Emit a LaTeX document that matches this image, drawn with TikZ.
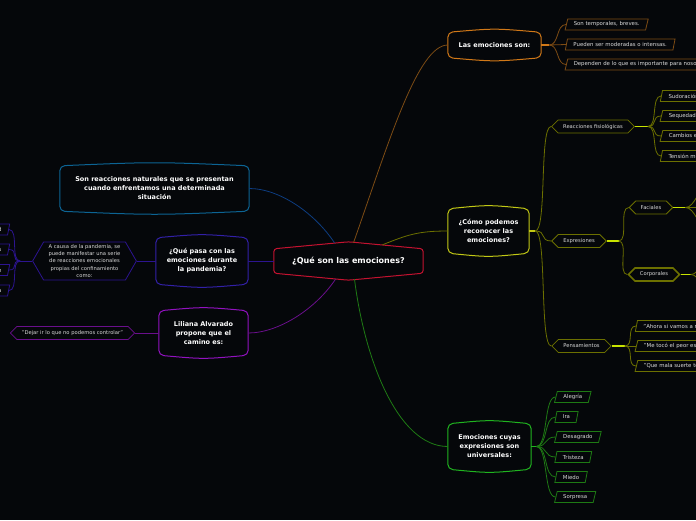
\documentclass[tikz,border=0pt]{standalone}
\usepackage{fontspec}
\setmainfont{DejaVu Sans}
\usepackage{xcolor}
\usetikzlibrary{shapes.geometric, shapes.symbols, positioning}

\definecolor{bgc}{HTML}{05070A}
\definecolor{lighttxt}{HTML}{DADADA}
\definecolor{emored}{HTML}{C41230}
\definecolor{ornbright}{HTML}{D07818}
\definecolor{ornline}{HTML}{7E4C14}
\definecolor{olvbright}{HTML}{C2C815}
\definecolor{olvline}{HTML}{6C7000}
\definecolor{olvstub}{HTML}{C8E400}
\definecolor{grnbright}{HTML}{20B420}
\definecolor{grnline}{HTML}{1E7A14}
\definecolor{bluebright}{HTML}{0C6494}
\definecolor{blueline}{HTML}{0D3C80}
\definecolor{indbright}{HTML}{3220A8}
\definecolor{indline}{HTML}{2C1490}
\definecolor{purbright}{HTML}{9212C0}
\definecolor{purline}{HTML}{6A0F8C}

% frame with curved top and bottom for the topic nodes
\newcommand{\bubble}[2]{\draw[#2, line width=1pt, rounded corners=5pt] (#1.west) -- (#1.north west) .. controls ([yshift=4pt]#1.north) .. (#1.north east) -- (#1.south east) .. controls ([yshift=-4pt]#1.south) .. (#1.south west) -- cycle;}

\begin{document}
\begin{tikzpicture}[x=1pt, y=-1pt,
    root/.style={font=\bfseries\fontsize{8}{10}\selectfont, text=white, minimum width=149pt, minimum height=24pt, inner sep=0pt},
    topic/.style={font=\bfseries\fontsize{6.5}{9}\selectfont, text=white, align=center, inner sep=0pt},
    hexa/.style={draw=#1, signal, signal to=west and east, signal pointer angle=90, fill=bgc, font=\fontsize{5.2}{7.3}\selectfont, text=lighttxt, minimum height=13pt, inner xsep=5pt, inner ysep=0pt, line width=0.8pt},
    para/.style={draw=#1, trapezium, trapezium left angle=63, trapezium right angle=117, trapezium stretches=true, fill=bgc, font=\fontsize{5.4}{6}\selectfont, text=lighttxt, minimum height=11pt, inner xsep=6pt, inner ysep=0pt, anchor=west, line width=0.8pt},
    link/.style={draw=#1, line width=0.8pt},
    stub/.style={draw=#1, line width=1.4pt}
]
    \useasboundingbox (0,0) rectangle (696,520);
    \fill[bgc] (0,0) rectangle (696,520);
    \clip (0,0) rectangle (696,520);

    % centre and topics
    \node[root] (emo) at (348.5,261) {¿Qué son las emociones?};
    \draw[emored, line width=1pt, rounded corners=3pt] (emo.north west) -- ([yshift=7pt]emo.north) -- (emo.north east) -- (emo.south east) -- ([yshift=-7pt]emo.south) -- (emo.south west) -- cycle;

    \node[topic, minimum width=93pt, minimum height=25pt] (son) at (494.5,45) {Las emociones son:};
    \node[topic, minimum width=81pt, minimum height=44pt] (como) at (488.5,231) {¿Cómo podemos\\reconocer las\\emociones?};
    \node[topic, minimum width=83pt, minimum height=45pt] (univ) at (489.5,446.5) {Emociones cuyas\\expresiones son\\universales:};
    \node[topic, minimum width=189pt, minimum height=45pt] (natur) at (154.5,188.5) {Son reacciones naturales que se presentan\\cuando enfrentamos una determinada\\situación};
    \node[topic, minimum width=92pt, minimum height=46pt] (pand) at (202,261) {¿Qué pasa con las\\emociones durante\\la pandemia?};
    \node[topic, minimum width=89pt, minimum height=44pt] (lili) at (203.5,333) {Liliana Alvarado\\propone que el\\camino es:};
    \bubble{son}{ornbright}
    \bubble{como}{olvbright}
    \bubble{univ}{grnbright}
    \bubble{natur}{bluebright}
    \bubble{pand}{indbright}
    \bubble{lili}{purbright}

    \draw[link=ornline] ([xshift=5pt,yshift=6pt]emo.north) .. controls +(35,-100) and +(-30,0) .. (son.west);
    \draw[link=olvline] ([xshift=34pt,yshift=4pt]emo.north) .. controls +(25,-10) and +(-30,0) .. (como.west);
    \draw[link=grnline] ([xshift=6pt,yshift=-6pt]emo.south) .. controls +(10,80) and +(-50,0) .. (univ.west);
    \draw[link=blueline] ([xshift=-14pt,yshift=6pt]emo.north) .. controls +(-20,-30) and +(30,0) .. (natur.east);
    \draw[link=purline] ([xshift=-13pt,yshift=-6pt]emo.south) .. controls +(-20,30) and +(30,0) .. (lili.east);
    \draw[link=indline] (emo.west) -- (pand.east);

    % Las emociones son
    \node[para=ornline] (son1) at (566,24.5) {Son temporales, breves.};
    \node[para=ornline] (son2) at (566,44.5) {Pueden ser moderadas o intensas.};
    \node[para=ornline] (son3) at (566,64.5) {Dependen de lo que es importante para nosotros};
    \coordinate (sonj) at ([xshift=8pt]son.east);
    \draw[stub=ornbright] (son.east) -- (sonj);
    \draw[link=ornline] (sonj) .. controls +(10,0) and +(-10,0) .. (son1.west);
    \draw[link=ornline] (sonj) -- (son2.west);
    \draw[link=ornline] (sonj) .. controls +(10,0) and +(-10,0) .. (son3.west);

    % Como podemos reconocer
    \node[hexa=olvline] (fisio) at (593,126.5) {Reacciones fisiológicas};
    \node[hexa=olvline] (expr) at (579,241) {Expresiones};
    \node[hexa=olvline] (pens) at (581.5,346) {Pensamientos};
    \coordinate (comoj) at ([xshift=6pt]como.east);
    \draw[stub=olvbright] (como.east) -- (comoj);
    \draw[link=olvline] (comoj) .. controls +(12,0) and +(-12,0) .. (fisio.west);
    \draw[link=olvline] (comoj) .. controls +(12,0) and +(-12,0) .. (expr.west);
    \draw[link=olvline] (comoj) .. controls +(12,0) and +(-12,0) .. (pens.west);

    \node[para=olvline] (fis1) at (661,96) {Sudoración};
    \node[para=olvline] (fis2) at (661,116) {Sequedad en la boca};
    \node[para=olvline] (fis3) at (661,136) {Cambios en la respiración};
    \node[para=olvline] (fis4) at (661,156) {Tensión muscular};
    \coordinate (fisioj) at ([xshift=13pt]fisio.east);
    \draw[stub=olvstub] (fisio.east) -- (fisioj);
    \draw[link=olvline] (fisioj) .. controls +(10,0) and +(-10,0) .. (fis1.west);
    \draw[link=olvline] (fisioj) .. controls +(10,0) and +(-10,0) .. (fis2.west);
    \draw[link=olvline] (fisioj) .. controls +(10,0) and +(-10,0) .. (fis3.west);
    \draw[link=olvline] (fisioj) .. controls +(10,0) and +(-10,0) .. (fis4.west);

    \node[hexa=olvline] (facial) at (651,207.5) {Faciales};
    \node[hexa=olvline, line width=1.6pt] (corpo) at (654,274.5) {Corporales};
    \coordinate (exprj) at ([xshift=12pt]expr.east);
    \draw[stub=olvstub] (expr.east) -- (exprj);
    \draw[link=olvline] (exprj) .. controls +(10,0) and +(-10,0) .. (facial.west);
    \draw[link=olvline] (exprj) .. controls +(10,0) and +(-10,0) .. (corpo.west);

    \coordinate (facialj) at ([xshift=12pt]facial.east);
    \coordinate (facial1) at (708,187);
    \coordinate (facial2) at (708,207.5);
    \coordinate (facial3) at (708,228);
    \draw[stub=olvstub] (facial.east) -- (facialj);
    \draw[link=olvline] (facialj) .. controls +(10,0) and +(-10,0) .. (facial1);
    \draw[link=olvline] (facialj) -- (facial2);
    \draw[link=olvline] (facialj) .. controls +(10,0) and +(-10,0) .. (facial3);

    \coordinate (corpoj) at ([xshift=10pt]corpo.east);
    \coordinate (corpo1) at (708,258);
    \coordinate (corpo2) at (708,291);
    \draw[stub=olvstub] (corpo.east) -- (corpoj);
    \draw[link=olvline] (corpoj) .. controls +(10,0) and +(-10,0) .. (corpo1);
    \draw[link=olvline] (corpoj) .. controls +(10,0) and +(-10,0) .. (corpo2);

    \node[para=olvline] (pens1) at (636,326) {"Ahora si vamos a morir"};
    \node[para=olvline] (pens2) at (636,346) {"Me tocó el peor escenario"};
    \node[para=olvline] (pens3) at (636,366) {"Que mala suerte tengo"};
    \coordinate (pensj) at ([xshift=13pt]pens.east);
    \draw[stub=olvstub] (pens.east) -- (pensj);
    \draw[link=olvline] (pensj) .. controls +(10,0) and +(-10,0) .. (pens1.west);
    \draw[link=olvline] (pensj) -- (pens2.west);
    \draw[link=olvline] (pensj) .. controls +(10,0) and +(-10,0) .. (pens3.west);

    % Emociones universales
    \node[para=grnline] (uni1) at (555.5,397) {Alegría};
    \node[para=grnline] (uni2) at (555.5,417) {Ira};
    \node[para=grnline] (uni3) at (555.5,437) {Desagrado};
    \node[para=grnline] (uni4) at (555.5,457) {Tristeza};
    \node[para=grnline] (uni5) at (555.5,477) {Miedo};
    \node[para=grnline] (uni6) at (555.5,497) {Sorpresa};
    \coordinate (univj) at ([xshift=5pt]univ.east);
    \draw[stub=grnbright] (univ.east) -- (univj);
    \draw[link=grnline] (univj) .. controls +(12,0) and +(-12,0) .. (uni1.west);
    \draw[link=grnline] (univj) .. controls +(12,0) and +(-12,0) .. (uni2.west);
    \draw[link=grnline] (univj) .. controls +(12,0) and +(-12,0) .. (uni3.west);
    \draw[link=grnline] (univj) .. controls +(12,0) and +(-12,0) .. (uni4.west);
    \draw[link=grnline] (univj) .. controls +(12,0) and +(-12,0) .. (uni5.west);
    \draw[link=grnline] (univj) .. controls +(12,0) and +(-12,0) .. (uni6.west);

    % pandemia
    \node[hexa=indline, signal pointer angle=120, minimum height=38pt, align=center] (causa) at (84.5,261) {A causa de la pandemia, se\\puede manifestar una serie\\de reacciones emocionales\\propias del confinamiento\\como:};
    \draw[link=indline] (pand.west) -- (causa.east);
    \node[para=indline, anchor=east] (cau1) at (9,229.5) {Ansiedad};
    \node[para=indline, anchor=east] (cau2) at (9,249.5) {Estrés};
    \node[para=indline, anchor=east] (cau3) at (9,270) {Frustración};
    \node[para=indline, anchor=east] (cau4) at (9,290.5) {Tristeza};
    \coordinate (causaj) at ([xshift=-12pt]causa.west);
    \draw[link=indline] (causa.west) -- (causaj);
    \draw[link=indline] (causaj) .. controls +(-10,0) and +(10,0) .. (cau1.east);
    \draw[link=indline] (causaj) .. controls +(-10,0) and +(10,0) .. (cau2.east);
    \draw[link=indline] (causaj) .. controls +(-10,0) and +(10,0) .. (cau3.east);
    \draw[link=indline] (causaj) .. controls +(-10,0) and +(10,0) .. (cau4.east);

    % camino
    \node[hexa=purline] (dejar) at (72.5,333) {"Dejar ir lo que no podemos controlar"};
    \draw[link=purline] (lili.west) -- (dejar.east);
\end{tikzpicture}
\end{document}
